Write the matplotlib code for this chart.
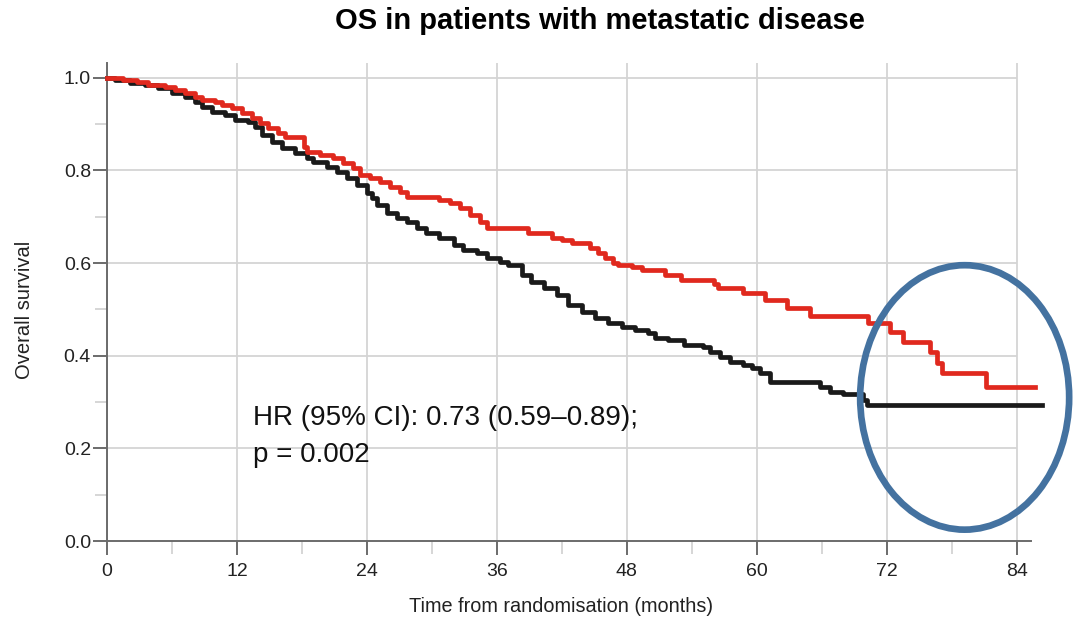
import matplotlib
matplotlib.use("Agg")
import matplotlib.pyplot as plt
from matplotlib.patches import Ellipse
from matplotlib.ticker import MultipleLocator

plt.rcParams['font.family'] = ['Liberation Sans', 'DejaVu Sans']

# Kaplan-Meier steps (months, survival after the drop)
red_t = [0, 1.5, 2.8, 3.8, 5.4, 6.3, 7.2, 8.1, 8.8, 10.0, 10.6, 11.5, 12.5, 13.4,
         14.1, 14.9, 15.8, 16.4, 18.2, 18.5, 19.7, 20.9, 21.8, 22.7, 23.4, 24.3,
         25.2, 26.1, 27.1, 27.7, 30.7, 31.7, 32.6, 33.5, 34.4, 35.1, 38.9, 41.1,
         42.0, 42.9, 44.6, 45.3, 46.0, 46.7, 47.2, 48.5, 49.4, 51.5, 53.0, 56.1,
         56.4, 58.7, 60.8, 62.8, 64.9, 70.3, 72.3, 73.5, 76.0, 76.6, 77.1, 81.2, 85.7]
red_s = [1.0, 0.996, 0.991, 0.985, 0.980, 0.974, 0.967, 0.959, 0.952, 0.948, 0.942,
         0.935, 0.924, 0.914, 0.903, 0.892, 0.881, 0.873, 0.851, 0.840, 0.834, 0.827,
         0.816, 0.806, 0.790, 0.784, 0.775, 0.765, 0.754, 0.743, 0.737, 0.730, 0.719,
         0.704, 0.689, 0.676, 0.665, 0.654, 0.650, 0.644, 0.633, 0.622, 0.611, 0.600,
         0.596, 0.592, 0.585, 0.575, 0.564, 0.554, 0.546, 0.536, 0.521, 0.503, 0.486,
         0.471, 0.452, 0.430, 0.408, 0.385, 0.363, 0.333, 0.333]

black_t = [0, 0.7, 2.1, 3.5, 4.7, 6.0, 7.2, 8.1, 8.8, 9.7, 10.9, 11.8, 13.0, 13.7,
           14.3, 15.2, 16.2, 17.4, 18.5, 19.0, 20.3, 21.2, 22.2, 23.1, 24.0, 24.5,
           24.9, 25.9, 26.8, 27.7, 28.6, 29.5, 30.7, 32.0, 32.9, 34.2, 35.1, 36.3,
           37.0, 38.3, 39.2, 40.4, 41.6, 42.6, 43.9, 45.1, 46.3, 47.6, 48.8, 50.0,
           50.6, 51.8, 53.3, 55.0, 55.7, 56.6, 57.5, 58.7, 59.6, 60.3, 61.2, 65.8,
           66.8, 68.0, 69.8, 70.2, 86.3]
black_s = [1.0, 0.996, 0.989, 0.985, 0.978, 0.967, 0.959, 0.948, 0.937, 0.927, 0.920,
           0.909, 0.905, 0.894, 0.877, 0.862, 0.849, 0.838, 0.827, 0.819, 0.808, 0.797,
           0.784, 0.769, 0.752, 0.740, 0.726, 0.708, 0.698, 0.689, 0.676, 0.665, 0.654,
           0.639, 0.629, 0.622, 0.611, 0.603, 0.596, 0.575, 0.560, 0.546, 0.531, 0.510,
           0.495, 0.482, 0.471, 0.462, 0.456, 0.449, 0.438, 0.434, 0.423, 0.419, 0.408,
           0.397, 0.387, 0.380, 0.374, 0.363, 0.344, 0.333, 0.322, 0.317, 0.305, 0.294,
           0.294]

x_ticks = [0, 12, 24, 36, 48, 60, 72, 84]
y_ticks = [0.0, 0.2, 0.4, 0.6, 0.8, 1.0]

fig = plt.figure(figsize=(10.74, 6.19), dpi=100)
ax = fig.add_axes([0.0996, 0.126, 0.8601, 0.7722])

ax.set_xlim(0, 85.3)
ax.set_ylim(0, 1.032)

# grid: vertical at majors, horizontal stops at 84
ax.set_xticks(x_ticks)
ax.set_yticks(y_ticks)
ax.set_yticklabels([f"{v:.1f}" for v in y_ticks])
ax.xaxis.set_minor_locator(MultipleLocator(6))
ax.yaxis.set_minor_locator(MultipleLocator(0.1))
ax.grid(axis='x', which='major', color='#d4d4d4', lw=1.3, zorder=0)
ax.hlines(y_ticks[1:], 0, 84, color='#d4d4d4', lw=1.3, zorder=0)

for s in ['top', 'right']:
    ax.spines[s].set_visible(False)
for s in ['left', 'bottom']:
    ax.spines[s].set_color('#6b6b6b')
    ax.spines[s].set_linewidth(1.4)

ax.tick_params(which='major', length=10, width=1.4, color='#6b6b6b',
               labelsize=14, labelcolor='#222222')
ax.tick_params(axis='x', which='major', pad=6)
ax.tick_params(axis='y', which='major', pad=1.5)
ax.tick_params(which='minor', length=9, width=1.2, color='#cfcfcf')

ax.step(black_t, black_s, where='post', color='#1a1a1a', lw=3.4, clip_on=False, zorder=3)
ax.step(red_t, red_s, where='post', color='#e0291e', lw=3.4, clip_on=False, zorder=4)

ax.text(13.5, 0.2505, "HR (95% CI): 0.73 (0.59\u20130.89);", fontsize=20, color='#111111')
ax.text(13.5, 0.1706, "p = 0.002", fontsize=20, color='#111111')

ax.add_patch(Ellipse((79.2, 0.31), 19.3, 0.571, fill=False, lw=4.8,
                     ec='#4472a0', clip_on=False, zorder=5))

ax.set_xlabel("Time from randomisation (months)", fontsize=14.3, color='#222222')
ax.xaxis.set_label_coords(0.492, -0.117)
ax.set_ylabel("Overall survival", fontsize=14.5, color='#222222')
ax.yaxis.set_label_coords(-0.079, 0.483)

fig.text(0.5587, 0.966, "OS in patients with metastatic disease", fontsize=21,
         fontweight='bold', ha='center', va='center')

fig.savefig("out.png", dpi=100)
